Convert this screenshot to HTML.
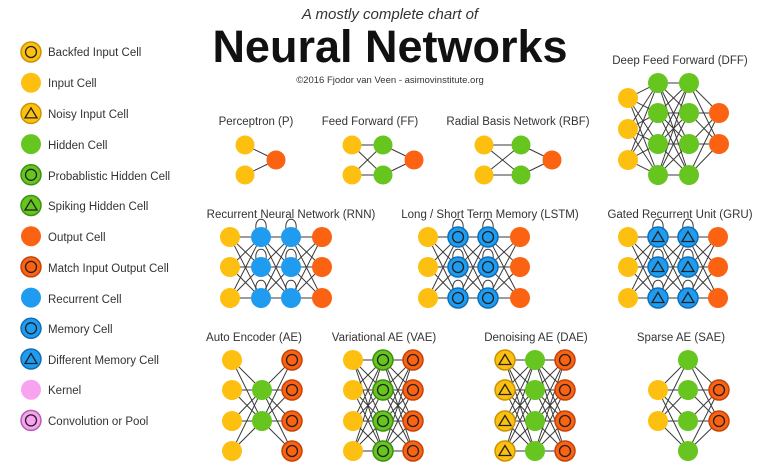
<!DOCTYPE html>
<html><head><meta charset="utf-8"><style>
body{margin:0;background:#fff;width:760px;height:468px;overflow:hidden}
svg text{font-family:"Liberation Sans",sans-serif;fill:#333}
</style></head><body>
<svg id="s" width="760" height="468" xmlns="http://www.w3.org/2000/svg">
<g id="edges" stroke="#3a3a3a" stroke-width="1" fill="none"></g>
<g id="nodes"></g>
<g font-size="11.5">
<text x="48" y="56">Backfed Input Cell</text>
<text x="48" y="87">Input Cell</text>
<text x="48" y="118">Noisy Input Cell</text>
<text x="48" y="149">Hidden Cell</text>
<text x="48" y="180">Probablistic Hidden Cell</text>
<text x="48" y="210">Spiking Hidden Cell</text>
<text x="48" y="241">Output Cell</text>
<text x="48" y="272">Match Input Output Cell</text>
<text x="48" y="303">Recurrent Cell</text>
<text x="48" y="333">Memory Cell</text>
<text x="48" y="364">Different Memory Cell</text>
<text x="48" y="394">Kernel</text>
<text x="48" y="425">Convolution or Pool</text>
</g>
<text x="390" y="19" font-size="15" font-style="italic" text-anchor="middle" fill="#222">A mostly complete chart of</text>
<text x="390" y="62" font-size="45" font-weight="bold" text-anchor="middle" style="fill:#111">Neural Networks</text>
<text x="390" y="83" font-size="9.5" text-anchor="middle">©2016 Fjodor van Veen - asimovinstitute.org</text>
<g font-size="11.5" text-anchor="middle">
<text x="256" y="125">Perceptron (P)</text>
<text x="370" y="125">Feed Forward (FF)</text>
<text x="518" y="125">Radial Basis Network (RBF)</text>
<text x="680" y="64">Deep Feed Forward (DFF)</text>
<text x="291" y="218">Recurrent Neural Network (RNN)</text>
<text x="490" y="218">Long / Short Term Memory (LSTM)</text>
<text x="680" y="218">Gated Recurrent Unit (GRU)</text>
<text x="254" y="341">Auto Encoder (AE)</text>
<text x="384" y="341">Variational AE (VAE)</text>
<text x="536" y="341">Denoising AE (DAE)</text>
<text x="681" y="341">Sparse AE (SAE)</text>
</g>
</svg>
<script>
var NS="http://www.w3.org/2000/svg",E=document.getElementById("edges"),N=document.getElementById("nodes");
var C={y:"#fdc010",g:"#66c51e",o:"#fb6212",b:"#1f9cf0",p:"#f7a3ef"};
var D={y:"#c99400",g:"#3f8f10",o:"#c34408",b:"#0d6fb8",p:"#b25fb0"};
function el(t,a,p){var e=document.createElementNS(NS,t);for(var k in a)e.setAttribute(k,a[k]);p.appendChild(e);return e}
function node(x,y,c,m,r){r=r||10;
 el("circle",{cx:x,cy:y,r:r,fill:C[c],stroke:m?D[c]:"none","stroke-width":m?1.5:0},N);
 if(m=="o")el("circle",{cx:x,cy:y,r:r*0.55,fill:"none",stroke:"#222","stroke-width":1.3},N);
 if(m=="t")el("polygon",{points:(x)+","+(y-5.5)+" "+(x-6)+","+(y+4.5)+" "+(x+6)+","+(y+4.5),fill:"none",stroke:"#222","stroke-width":1.3},N);}
function line(a,b){el("line",{x1:a[0],y1:a[1],x2:b[0],y2:b[1]},E)}
function net(layers,r){for(var i=0;i<layers.length-1;i++)layers[i].forEach(a=>layers[i+1].forEach(b=>line(a,b)));
 layers.forEach(L=>L.forEach(n=>node(n[0],n[1],n[2],n[3],r)));}
function col(x,ys,c,m){return ys.map(y=>[x,y,c,m])}
var lg=[["y","o"],["y"],["y","t"],["g"],["g","o"],["g","t"],["o"],["o","o"],["b"],["b","o"],["b","t"],["p"],["p","o"]];
lg.forEach((l,i)=>node(31,52+i*30.7,l[0],l[1]));
net([col(245,[145,175],"y"),col(276,[160],"o")],9.5);
net([col(352,[145,175],"y"),col(383,[145,175],"g"),col(414,[160],"o")],9.5);
net([col(484,[145,175],"y"),col(521,[145,175],"g"),col(552,[160],"o")],9.5);
var hy=[83,113,144,175];
net([col(628,[98,129,160],"y"),col(658,hy,"g"),col(689,hy,"g"),col(719,[113,144],"o")]);
function rec(xs,m){var ys=[237,267,298];
 [xs[1],xs[2]].forEach(x=>ys.forEach(y=>el("path",{d:"M"+(x-5)+","+(y-8)+" C"+(x-7)+","+(y-21)+" "+(x+7)+","+(y-21)+" "+(x+5)+","+(y-8)},E)));
 net([col(xs[0],ys,"y"),col(xs[1],ys,"b",m),col(xs[2],ys,"b",m),col(xs[3],ys,"o")]);}
rec([230,261,291,322]);rec([428,458,488,520],"o");rec([628,658,688,718],"t");
var Y4=[360,390,421,451];
net([col(232,Y4,"y"),col(262,[390,421],"g"),col(292,Y4,"o","o")]);
net([col(353,Y4,"y"),col(383,Y4,"g","o"),col(413,Y4,"o","o")]);
net([col(505,Y4,"y","t"),col(535,Y4,"g"),col(565,Y4,"o","o")]);
net([col(658,[390,421],"y"),col(688,Y4,"g"),col(719,[390,421],"o","o")]);
</script>
</body></html>
